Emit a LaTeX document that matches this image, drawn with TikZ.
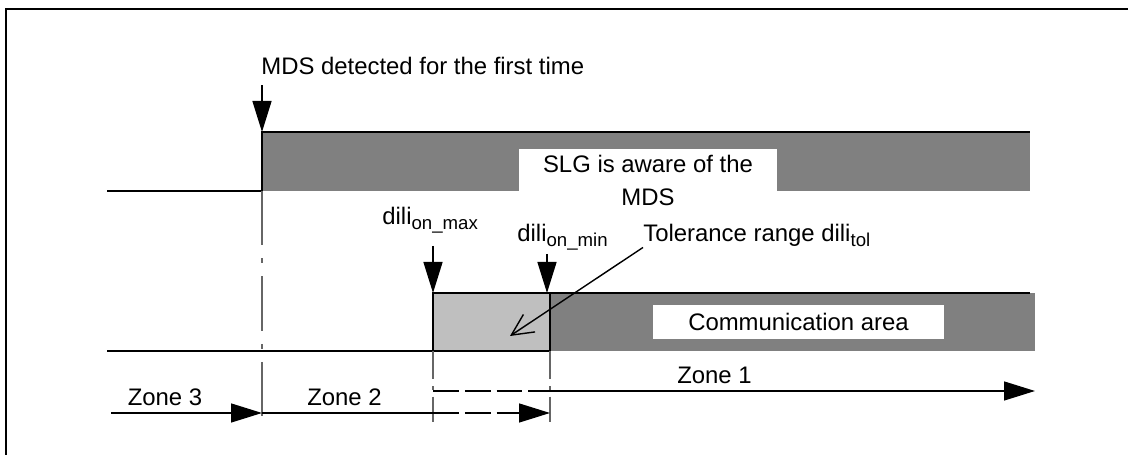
\documentclass[tikz,border=0pt]{standalone}
\usepackage{fontspec}
\setmainfont{Liberation Sans}
\usetikzlibrary{arrows.meta}
\definecolor{bargray}{gray}{0.5}
\definecolor{tolgray}{gray}{0.75}
\definecolor{axisgray}{gray}{0.4}
\newcommand{\lowtxt}[1]{\raisebox{-2.8pt}{\fontsize{10.6}{12}\selectfont #1}}

\begin{document}
\begin{tikzpicture}[scale=1,
  every node/.style={font=\fontsize{13.6}{19.3}\selectfont,inner sep=0pt},
  axis line/.style={line width=0.8pt},
  bigtip/.style={axis line,-{Triangle[length=0.62cm,width=0.38cm]}},
  barb/.style={axis line,-{Straight Barb[length=0.43cm,width=0.42cm]}},
  dashdot/.style={axisgray,line width=0.9pt,dash pattern=on 31pt off 7.4pt on 2.8pt off 7.4pt},
  shortdashdot/.style={axisgray,line width=0.9pt,dash pattern=on 16pt off 4pt on 2pt off 4pt},
  dashpart/.style={dash pattern=on 14.7pt off 3.4pt}]
\useasboundingbox (0,0) rectangle (22.56,9.1);
\draw[line width=1.1pt] (0.12,0)--(0.12,8.92)--(22.56,8.92);
% points on the signals
\coordinate (t0) at (5.24,6.46); \coordinate (t1) at (8.66,3.24); \coordinate (t2) at (10.94,3.24);
\coordinate (tolpt) at (10.2,2.38);
% upper signal
\fill[bargray] (5.24,5.28) rectangle (20.6,6.46);
\draw[line width=1pt] (2.14,5.28)--(5.24,5.28)--(t0)--(20.6,6.46);
\fill[white] (10.38,5.28) rectangle (15.54,6.12);
\node[align=center] (aware) at (12.96,5.49) {SLG is aware of the\\MDS};
% lower signal
\fill[bargray] (11,2.08) rectangle (20.7,3.24);
\draw[line width=1pt,fill=tolgray] (8.66,2.08) rectangle (11,3.24);
\draw[line width=1pt] (11,3.24)--(20.6,3.24);
\draw[line width=1pt] (2.14,2.08)--(8.66,2.08);
\node[fill=white,minimum width=5.82cm,minimum height=0.68cm] (comm) at (15.97,2.66) {Communication area};
% time marks
\draw[dashdot] (5.24,5.28)--(5.24,0.66);
\draw[shortdashdot] (8.66,2.08)--(8.66,0.66);
\draw[shortdashdot] (11,2.08)--(11,0.66);
\node[anchor=base west] (mds) at (5.22,7.6) {MDS detected for the first time};
\draw[bigtip,shorten <=0.19cm] (mds.south -| t0)--(t0);
\node[anchor=base west] (onmax) at (7.64,4.6) {dili\lowtxt{on\_max}};
\draw[bigtip,shorten <=0.24cm] (onmax.south -| t1)--(t1);
\node[anchor=base west] (onmin) at (10.34,4.26) {dili\lowtxt{on\_min}};
\draw[bigtip,shorten <=0.06cm] (onmin.south -| t2)--(t2);
\node[anchor=base west] (tol) at (12.86,4.26) {Tolerance range dili\lowtxt{tol}};
\draw[barb] (tol.south west)--(tolpt);
% zones
\coordinate (z3) at (2.22,0.84); \coordinate (a0) at (5.24,0.84);
\coordinate (a1) at (8.66,0.84); \coordinate (a2) at (11,0.84);
\coordinate (b1) at (8.66,1.28); \coordinate (b2) at (11,1.28); \coordinate (b3) at (20.7,1.28);
\draw[bigtip] (z3)--(a0);
\draw[axis line] (a0)--(a1);
\draw[bigtip,dashpart] (a1)--(a2);
\draw[axis line,dashpart] (b1)--(b2);
\draw[bigtip] (b2)--(b3);
\node[anchor=base] (zone3) at (3.3,0.98) {Zone 3};
\node[anchor=base] (zone2) at (6.89,0.98) {Zone 2};
\node[anchor=base] (zone1) at (14.29,1.42) {Zone 1};
\end{tikzpicture}
\end{document}
